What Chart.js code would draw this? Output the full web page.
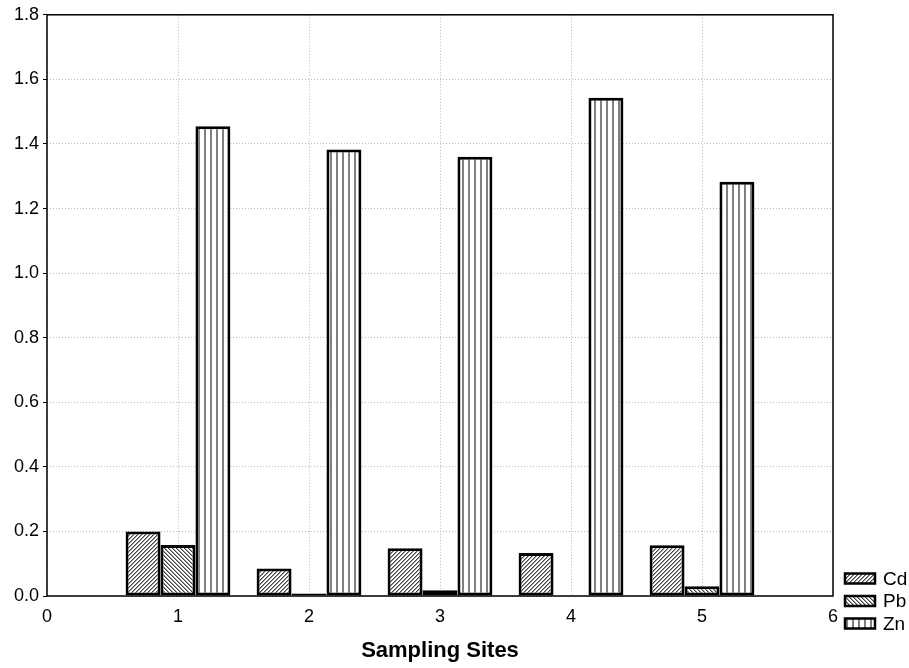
<!DOCTYPE html>
<html>
<head>
<meta charset="utf-8">
<script src="https://cdn.jsdelivr.net/npm/chart.js@4/dist/chart.umd.min.js"></script>
<style>
  html, body { margin: 0; padding: 0; background: #fff; }
  #wrap { width: 909px; height: 668px; }
</style>
</head>
<body>
<div id="wrap"><canvas id="chart"></canvas></div>
<script>
const sites = [1, 2, 3, 4, 5];
const cd = [0.2, 0.085, 0.148, 0.133, 0.157];
const pb = [0.158, 0.008, 0.018, 0, 0.03];
const zn = [1.455, 1.383, 1.36, 1.543, 1.283];
const series_names = ["Cd", "Pb", "Zn"];

const FONT = "'Liberation Sans', Arial, sans-serif";

function makePattern(kind) {
  const c = document.createElement("canvas");
  const ctx = c.getContext("2d");
  if (kind === "zn") {
    c.width = 6; c.height = 1;
    ctx.fillStyle = "#fff";
    ctx.fillRect(0, 0, 6, 1);
    ctx.fillStyle = "#808080";
    ctx.fillRect(0, 0, 2, 1);
  } else {
    c.width = 4; c.height = 4;
    ctx.fillStyle = "#fff";
    ctx.fillRect(0, 0, 4, 4);
    for (let i = 0; i < 4; i++) {
      const x = kind === "cd" ? 3 - i : i;
      ctx.fillStyle = "#444";
      ctx.fillRect(x, i, 1, 1);
      ctx.fillStyle = "#999";
      ctx.fillRect((x + 1) % 4, i, 1, 1);
    }
  }
  return ctx.createPattern(c, "repeat");
}

const patterns = [makePattern("cd"), makePattern("pb"), makePattern("zn")];

function toPoints(values) {
  return values.map((v, i) => ({ x: sites[i], y: v }));
}

const frame_and_legend = {
  id: "frameAndLegend",
  afterDraw(chart) {
    const ctx = chart.ctx;
    const a = chart.chartArea;
    ctx.save();
    ctx.strokeStyle = "#000";
    ctx.lineWidth = 1.5;
    ctx.strokeRect(a.left, a.top, a.right - a.left, a.bottom - a.top);

    // legend in the bottom right corner
    const box_x = 845;
    const centers = [578.5, 601, 623.5];
    ctx.font = "19px " + FONT;
    ctx.textBaseline = "middle";
    series_names.forEach((name, i) => {
      const y = centers[i] - 5;
      ctx.fillStyle = patterns[i];
      ctx.fillRect(box_x, y, 30, 10);
      ctx.lineWidth = 2.5;
      ctx.strokeRect(box_x, y, 30, 10);
      ctx.fillStyle = "#000";
      ctx.fillText(name, 883, centers[i] + 1);
    });
    ctx.restore();
  },
};

new Chart(document.getElementById("chart"), {
  type: "bar",
  data: {
    datasets: [cd, pb, zn].map((values, i) => ({
      label: series_names[i],
      data: toPoints(values),
      backgroundColor: patterns[i],
      borderColor: "#000",
      borderWidth: 3,
      borderSkipped: false,
      categoryPercentage: 0.8,
      barPercentage: 1.0,
    })),
  },
  options: {
    responsive: true,
    maintainAspectRatio: false,
    animation: false,
    layout: {
      padding: { left: 0, top: 14, right: 76, bottom: 0 },
    },
    plugins: {
      legend: { display: false },
      tooltip: { enabled: false },
    },
    scales: {
      x: {
        type: "linear",
        min: 0,
        max: 6,
        offset: false,
        afterFit: (scale) => { scale.height = 72; },
        grid: {
          offset: false,
          color: "#b8b8b8",
          tickLength: 4,
          tickColor: "transparent",
          lineWidth: 1,
        },
        border: { display: false, dash: [1, 2] },
        ticks: {
          stepSize: 1,
          padding: 6,
          color: "#000",
          font: { family: FONT, size: 18 },
        },
        title: {
          display: true,
          text: "Sampling Sites",
          color: "#000",
          font: { family: FONT, size: 22, weight: "bold" },
          padding: { top: 4, bottom: 4 },
        },
      },
      y: {
        min: 0,
        max: 1.8,
        afterFit: (scale) => { scale.width = 47; },
        grid: {
          color: "#b8b8b8",
          tickLength: 4,
          tickColor: "#000",
        },
        border: { display: false, dash: [1, 2] },
        ticks: {
          stepSize: 0.2,
          padding: 4,
          color: "#000",
          font: { family: FONT, size: 18 },
          callback: (v) => v.toFixed(1),
        },
      },
    },
  },
  plugins: [frame_and_legend],
});
</script>
</body>
</html>
